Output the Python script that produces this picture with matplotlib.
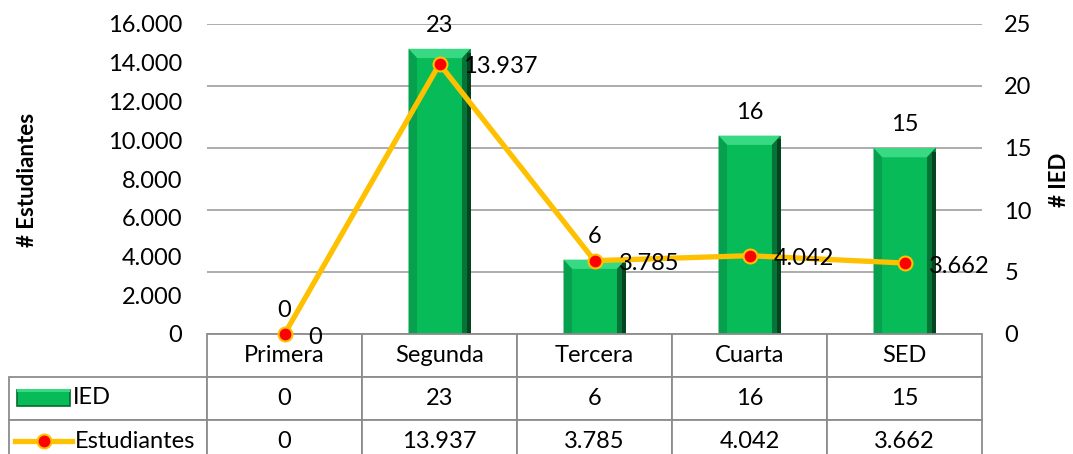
import numpy as np
import matplotlib
matplotlib.use('Agg')
import matplotlib.pyplot as plt
from matplotlib.table import Table
from matplotlib.patches import Polygon, Rectangle
from matplotlib.lines import Line2D
from matplotlib.ticker import FuncFormatter

plt.rcParams['font.family'] = ['Lato', 'DejaVu Sans']
plt.rcParams['font.size'] = 17

categorias = ['Primera', 'Segunda', 'Tercera', 'Cuarta', 'SED']
ied = [0, 23, 6, 16, 15]
estudiantes = [0, 13937, 3785, 4042, 3662]

VERDE = '#07bb59'
AMARILLO = '#ffc000'
ROJO = '#ff0000'
BORDE = '#8c8c8c'


def miles(v, pos=None):
    return '{:,.0f}'.format(v).replace(',', '.')


W, H = 1073, 454
fig = plt.figure(figsize=(W / 100, H / 100), dpi=100)


def fx(px):
    return px / W


def fy(py):
    return 1 - py / H


# plot area in pixels: x 207..982, y 24..334
AW, AH = 775, 310
ax = fig.add_axes([fx(207), fy(334), fx(AW), AH / H])
ax2 = ax.twinx()

x = np.arange(len(categorias))
ax.set_xlim(-0.5, len(categorias) - 0.5)
ax.set_ylim(0, 25)
ax.set_yticks(range(0, 26, 5))
ax.set_xticks([])
ax.grid(axis='y', color='#a6a6a6', lw=1.3)
ax.set_axisbelow(True)
for s in ax.spines.values():
    s.set_visible(False)

bw = 0.4
ax.bar(x, ied, width=bw, color=VERDE, edgecolor='none', zorder=2)
bx, by = 0.055, 0.75
for i, v in enumerate(ied):
    if v <= 0:
        continue
    x0, x1 = i - bw / 2, i + bw / 2
    ax.add_patch(Polygon([(x0, v), (x1, v), (x1 - bx, v - by), (x0 + bx, v - by)],
                         closed=True, color='#38d983', lw=0, zorder=3))
    ax.add_patch(Polygon([(x0, v), (x0 + bx, v - by), (x0 + bx, 0), (x0, 0)],
                         closed=True, color='#06a04e', lw=0, zorder=3))
    ax.add_patch(Polygon([(x1, v), (x1 - bx, v - by), (x1 - bx, 0), (x1, 0)],
                         closed=True, color='#057436', lw=0, zorder=3))
    ax.add_patch(Rectangle((x1 - bx * 0.4, 0), bx * 0.4, v - by * 0.4,
                           color='#03451f', lw=0, zorder=3))
    ax.annotate(str(v), (i, v), xytext=(0, 13), textcoords='offset pixels',
                ha='center', va='bottom', zorder=5)
ax.annotate('0', (0, 0), xytext=(0, 13), textcoords='offset pixels',
            ha='center', va='bottom', zorder=5)

ax.yaxis.tick_right()
ax.tick_params(axis='y', length=0, pad=16)

ax2.set_ylim(0, 16000)
ax2.set_yticks(range(0, 16001, 2000))
ax2.yaxis.set_major_formatter(FuncFormatter(miles))
ax2.yaxis.tick_left()
ax2.tick_params(axis='y', length=0, pad=18)
ax2.set_xticks([])
for s in ax2.spines.values():
    s.set_visible(False)
ax2.plot(x, estudiantes, color=AMARILLO, lw=3.8, marker='o', ms=10,
         mfc=ROJO, mec=AMARILLO, mew=1.5, zorder=4, clip_on=False)
for i, v in enumerate(estudiantes):
    ax2.annotate(miles(v), (i, v), xytext=(24, -3), textcoords='offset pixels',
                 ha='left', va='center', zorder=5)

# data table under the plot (cell sizes in axes fraction)
tbl = Table(ax2, loc='bottom')
cw, lw_, rh = 155 / AW, 198 / AW, 43 / AH
for c, cat in enumerate(categorias):
    tbl.add_cell(0, c, cw, rh, text=cat, loc='center')
for r, fila in enumerate([ied, estudiantes], start=1):
    tbl.add_cell(r, -1, lw_, rh, text='', loc='left')
    for c, v in enumerate(fila):
        tbl.add_cell(r, c, cw, rh, text=miles(v), loc='center')
tbl.auto_set_font_size(False)
tbl.set_fontsize(17)
for cell in tbl.get_celld().values():
    cell.set_edgecolor(BORDE)
    cell.set_linewidth(1.3)
ax2.add_table(tbl)

# legend keys inside the table
fig.add_artist(Rectangle((fx(17), fy(406)), fx(53), 16 / H, transform=fig.transFigure,
                         facecolor=VERDE, edgecolor='#046b31', lw=1.2))
fig.add_artist(Rectangle((fx(17), fy(392)), fx(53), 3 / H, transform=fig.transFigure,
                         facecolor='#38d983', lw=0))
fig.text(fx(73), fy(398), 'IED', ha='left', va='center')
fig.add_artist(Line2D([fx(15), fx(72)], [fy(441), fy(441)], transform=fig.transFigure,
                      color=AMARILLO, lw=3.8))
fig.add_artist(Line2D([fx(44)], [fy(441)], transform=fig.transFigure, marker='o', ms=10,
                      mfc=ROJO, mec=AMARILLO, mew=1.5, lw=0))
fig.text(fx(75), fy(441), 'Estudiantes', ha='left', va='center')

fig.text(fx(28), fy(180), '# Estudiantes', rotation=90, weight='bold',
         ha='center', va='center', fontsize=16)
fig.text(fx(1060), fy(180), '# IED', rotation=90, weight='bold',
         ha='center', va='center', fontsize=16)

fig.savefig('out.png', dpi=100)
